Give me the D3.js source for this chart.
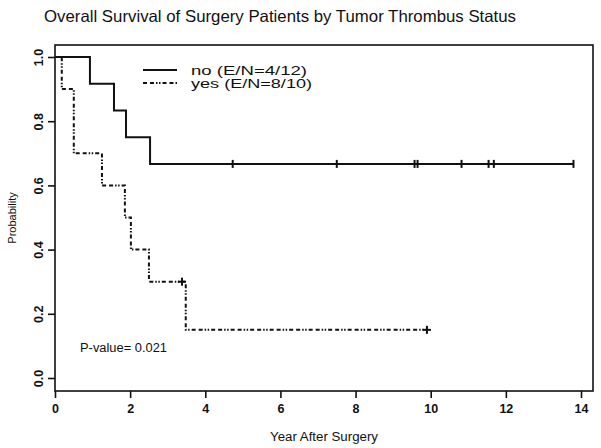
<!DOCTYPE html>
<html><head><meta charset="utf-8">
<script src="https://cdn.jsdelivr.net/npm/d3@7"></script>
<style>body{margin:0;background:#fff}svg{display:block}text{font-family:"Liberation Sans",Arial,sans-serif;fill:#111}</style>
</head><body><svg id="c" width="601" height="448"></svg>
<script>
const title = "Overall Survival of Surgery Patients by Tumor Thrombus Status";
const xLabel = "Year After Surgery", yLabel = "Probability";
const xTicks = [0,2,4,6,8,10,12,14];
const yTicks = [0.0,0.2,0.4,0.6,0.8,1.0];
// "no" group: step times and survival after each step
const noTimes = [0, 0.93, 1.57, 1.89, 2.53];
const noSurv  = [1.0, 0.917, 0.833, 0.75, 0.667];
const noEnd = 13.8;
const noCensor = [4.73, 7.5, 9.57, 9.65, 10.82, 11.54, 11.68, 13.8];
// "yes" group
const yesTimes = [0, 0.18, 0.5, 1.25, 1.86, 2.02, 2.5, 3.48];
const yesSurv  = [1.0, 0.9, 0.7, 0.6, 0.5, 0.4, 0.3, 0.15];
const yesEnd = 9.9;
const yesCensor = [3.38, 9.9];
const yesCensorSurv = [0.3, 0.15];
const legendLabels = ["no (E/N=4/12)", "yes (E/N=8/10)"];
const pText = "P-value= 0.021";

const svg = d3.select("#c");
const x = d3.scaleLinear().domain([0,14]).range([55,581]);
const y = d3.scaleLinear().domain([0,1]).range([378,57]);
const box = {l:55, t:45, r:593, b:391};

svg.append("rect").attr("x",box.l).attr("y",box.t).attr("width",box.r-box.l).attr("height",box.b-box.t)
  .attr("fill","none").attr("stroke","#111").attr("stroke-width",1.6);

// axes
const xa = svg.append("g").attr("transform",`translate(0,${box.b})`)
  .call(d3.axisBottom(x).tickValues(xTicks).tickSize(7).tickPadding(6).tickFormat(d3.format("d")));
const ya = svg.append("g").attr("transform",`translate(${box.l},0)`)
  .call(d3.axisLeft(y).tickValues(yTicks).tickSize(7).tickPadding(4).tickFormat(d3.format(".1f")));
[xa,ya].forEach(g=>{g.select(".domain").remove();g.selectAll("line").attr("stroke","#111").attr("stroke-width",1.6);
  g.selectAll("text").style("font-size","12.5px").style("font-weight","bold").attr("fill","#222");});
ya.selectAll(".tick text").attr("text-anchor","middle").attr("dy",null).attr("dominant-baseline","middle")
  .attr("transform",function(){const xx=+d3.select(this).attr("x");return `translate(${xx-4},0) rotate(-90)`}).attr("x",0);

svg.append("text").attr("x",280).attr("y",22).attr("text-anchor","middle").style("font-size","16.5px")
  .attr("textLength",472).attr("lengthAdjust","spacingAndGlyphs").text(title);
svg.append("text").attr("x",324).attr("y",441).attr("text-anchor","middle").style("font-size","12px")
  .attr("textLength",108).attr("lengthAdjust","spacingAndGlyphs").text(xLabel);
svg.append("text").attr("transform","translate(16,218) rotate(-90)").attr("text-anchor","middle").style("font-size","11px").text(yLabel);

function stepPts(times,surv,end){const p=[];times.forEach((t,i)=>{if(i>0)p.push([t,surv[i-1]]);p.push([t,surv[i]]);});p.push([end,surv[surv.length-1]]);return p;}
const line = d3.line().x(d=>x(d[0])).y(d=>y(d[1]));
const dash = "4,3,4,2,1.5,1.5,1.5,2";
svg.append("path").attr("d",line(stepPts(noTimes,noSurv,noEnd))).attr("fill","none").attr("stroke","#111").attr("stroke-width",2);
svg.append("path").attr("d",line(stepPts(yesTimes,yesSurv,yesEnd))).attr("fill","none").attr("stroke","#111").attr("stroke-width",2).attr("stroke-dasharray",dash);

svg.selectAll(".cn").data(noCensor).enter().append("line")
  .attr("x1",d=>x(d)).attr("x2",d=>x(d)).attr("y1",y(noSurv[noSurv.length-1])-4).attr("y2",y(noSurv[noSurv.length-1])+4)
  .attr("stroke","#111").attr("stroke-width",2);
yesCensor.forEach((t,i)=>{const cx=x(t),cy=y(yesCensorSurv[i]);
  svg.append("line").attr("x1",cx).attr("x2",cx).attr("y1",cy-4).attr("y2",cy+4).attr("stroke","#111").attr("stroke-width",2);
  svg.append("line").attr("x1",cx-4).attr("x2",cx+4).attr("y1",cy).attr("y2",cy).attr("stroke","#111").attr("stroke-width",2);});

// legend
[0,1].forEach(i=>{const ly=70+i*13.5;
  svg.append("line").attr("x1",143).attr("x2",177).attr("y1",ly-0.5*i).attr("y2",ly-0.5*i).attr("stroke","#111").attr("stroke-width",2)
    .attr("stroke-dasharray",i?dash:null);
  svg.append("text").attr("x",191).attr("y",ly+4.5).style("font-size","12px")
    .attr("textLength",i?121:116).attr("lengthAdjust","spacingAndGlyphs").text(legendLabels[i]);});

svg.append("text").attr("x",80).attr("y",352).style("font-size","12.5px").attr("textLength",87).attr("lengthAdjust","spacingAndGlyphs").text(pText);
</script></body></html>
